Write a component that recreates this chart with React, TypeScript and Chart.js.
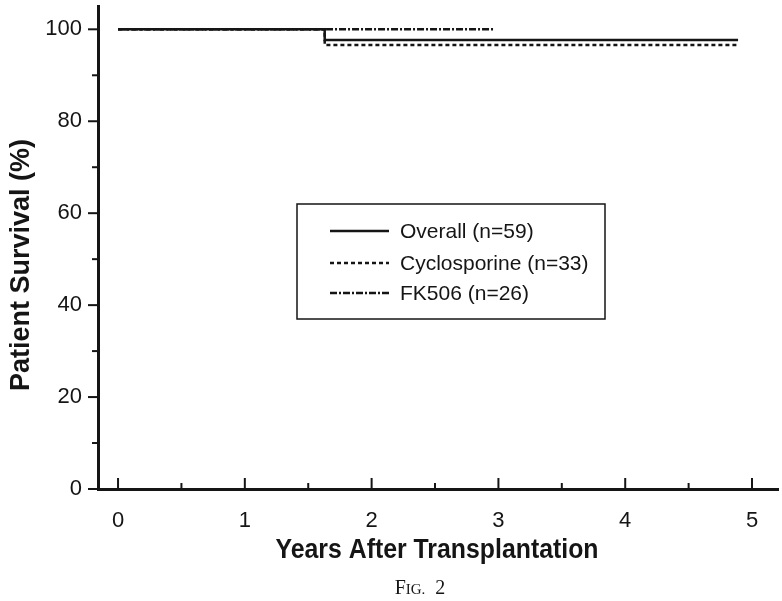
import React, { useEffect, useRef } from "react";
import { Chart, registerables } from "chart.js";

Chart.register(...registerables);

// ---- data ----
const overallYears = [0, 1.63, 4.89];
const overallSurvival = [100, 97.7, 97.7];
const cycloYears = [0, 1.63, 4.89];
const cycloSurvival = [100, 96.6, 96.6];
const fkYears = [0, 2.97];
const fkSurvival = [100, 100];

const seriesLabels = ["Overall (n=59)", "Cyclosporine (n=33)", "FK506 (n=26)"];
const yTickValues = [0, 20, 40, 60, 80, 100];
const xTickValues = [0, 1, 2, 3, 4, 5];
const xTitle = "Years After Transplantation";
const yTitle = "Patient Survival (%)";

const SANS = '"Liberation Sans", Arial, Helvetica, sans-serif';
const SERIF = '"Liberation Serif", "Times New Roman", serif';
const INK = "#151515";

const DASHES: number[][] = [[], [4, 3], [7, 2, 2, 2]];

const toPoints = (xs: number[], ys: number[]) => xs.map((x, i) => ({ x, y: ys[i] }));

const decorPlugin = {
  id: "decor",
  afterDraw(chart: any) {
    const ctx = chart.ctx as CanvasRenderingContext2D;
    const xs = chart.scales.x;
    const ys = chart.scales.y;
    const area = chart.chartArea;
    ctx.save();
    ctx.strokeStyle = INK;
    ctx.fillStyle = INK;
    ctx.lineWidth = 2;
    // y ticks (outward, left)
    for (let v = 0; v <= 100; v += 10) {
      const py = ys.getPixelForValue(v);
      const len = v % 20 === 0 ? 10 : 6;
      ctx.beginPath();
      ctx.moveTo(area.left - len, py);
      ctx.lineTo(area.left, py);
      ctx.stroke();
    }
    // x ticks (inward, up)
    for (let v = 0; v <= 5.0001; v += 0.5) {
      const px = xs.getPixelForValue(v);
      const len = Math.abs(v - Math.round(v)) < 1e-6 ? 11 : 6;
      ctx.beginPath();
      ctx.moveTo(px, area.bottom);
      ctx.lineTo(px, area.bottom - len);
      ctx.stroke();
    }
    // axis titles
    ctx.textAlign = "center";
    ctx.textBaseline = "middle";
    ctx.save();
    ctx.translate(22, 265);
    ctx.rotate(-Math.PI / 2);
    ctx.font = `bold 27px ${SANS}`;
    ctx.fillText(yTitle, 0, 0);
    ctx.restore();

    ctx.save();
    ctx.translate(437, 551);
    ctx.scale(0.92, 1);
    ctx.font = `bold 27px ${SANS}`;
    ctx.fillText(xTitle, 0, 0);
    ctx.restore();

    // FIG. 2 caption (small caps)
    ctx.textAlign = "left";
    ctx.textBaseline = "alphabetic";
    const parts: [string, number][] = [["F", 20], ["IG.", 15], ["\u00a0\u00a02", 20]];
    let total = 0;
    for (const [t, s] of parts) {
      ctx.font = `${s}px ${SERIF}`;
      total += ctx.measureText(t).width;
    }
    let cx = 420 - total / 2;
    for (const [t, s] of parts) {
      ctx.font = `${s}px ${SERIF}`;
      ctx.fillText(t, cx, 594);
      cx += ctx.measureText(t).width;
    }

    // legend box
    const bx = 297, by = 204, bw = 308, bh = 115;
    ctx.lineWidth = 1.5;
    ctx.setLineDash([]);
    ctx.strokeRect(bx, by, bw, bh);
    const rows = [231, 263, 293];
    ctx.font = `21px ${SANS}`;
    ctx.textBaseline = "middle";
    chart.data.datasets.forEach((ds: any, i: number) => {
      ctx.lineWidth = 2.5;
      ctx.setLineDash(ds.borderDash || []);
      ctx.beginPath();
      ctx.moveTo(330, rows[i]);
      ctx.lineTo(389, rows[i]);
      ctx.stroke();
      ctx.setLineDash([]);
      ctx.fillText(ds.label, 400, rows[i] + 1);
    });
    ctx.restore();
  },
};

export default function App() {
  const ref = useRef<HTMLCanvasElement | null>(null);
  useEffect(() => {
    document.body.style.margin = "0";
    const canvas = ref.current;
    if (!canvas) return;
    const mk = (i: number, xs: number[], ys: number[]) => ({
      label: seriesLabels[i],
      data: toPoints(xs, ys),
      borderColor: INK,
      backgroundColor: INK,
      borderWidth: 2.5,
      borderDash: DASHES[i],
      pointRadius: 0,
      stepped: "before" as const,
      fill: false,
    });
    const chart = new Chart(canvas, {
      type: "line",
      data: {
        datasets: [
          mk(0, overallYears, overallSurvival),
          mk(1, cycloYears, cycloSurvival),
          mk(2, fkYears, fkSurvival),
        ],
      },
      options: {
        responsive: false,
        animation: false,
        layout: { padding: { left: 0, top: 6, right: 4, bottom: 0 } },
        plugins: { legend: { display: false }, tooltip: { enabled: false } },
        scales: {
          x: {
            type: "linear",
            min: -0.158,
            max: 5.205,
            grid: { display: false, drawTicks: false },
            border: { display: true, width: 3, color: INK },
            afterFit: (s: any) => {
              s.height = 112;
              s.paddingLeft = 0;
              s.paddingRight = 0;
            },
            afterBuildTicks: (s: any) => { s.ticks = xTickValues.map((v) => ({ value: v })); },
            ticks: {
              font: { family: SANS, size: 22 },
              color: INK,
              padding: 19,
              maxRotation: 0,
            },
          },
          y: {
            type: "linear",
            min: 0,
            max: 105.07,
            grid: { display: false, drawTicks: false },
            border: { display: true, width: 3, color: INK },
            afterFit: (s: any) => {
              s.width = 98;
              s.paddingTop = 0;
              s.paddingBottom = 0;
            },
            afterBuildTicks: (s: any) => { s.ticks = yTickValues.map((v) => ({ value: v })); },
            ticks: {
              font: { family: SANS, size: 22 },
              color: INK,
              padding: 16,
            },
          },
        },
      },
      plugins: [decorPlugin],
    });
    return () => chart.destroy();
  }, []);
  return (
    <div style={{ width: 782, height: 601, background: "#fff" }}>
      <canvas ref={ref} width={782} height={601} style={{ display: "block" }} />
    </div>
  );
}
